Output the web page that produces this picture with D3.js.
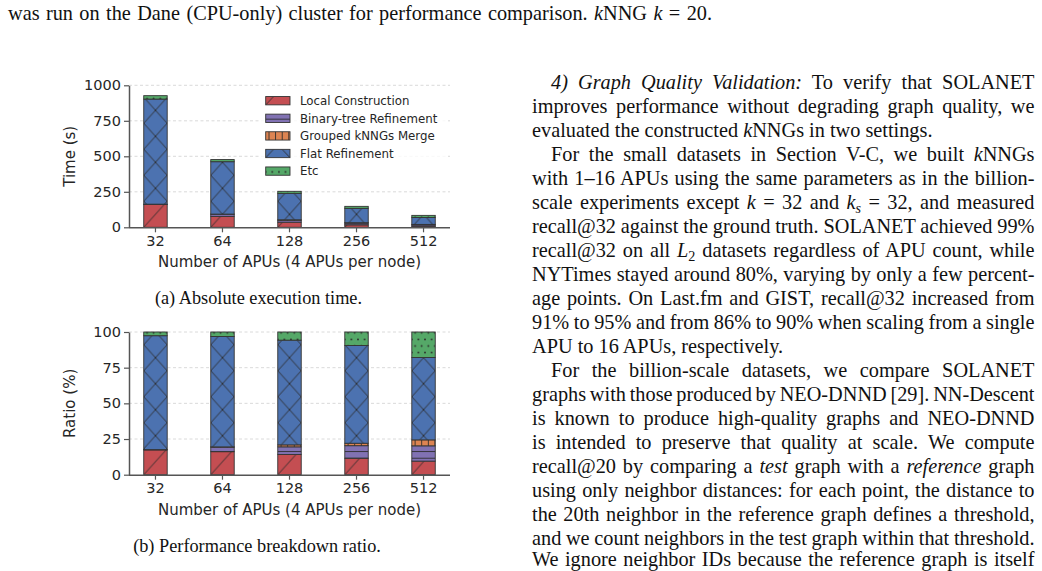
<!DOCTYPE html>
<html><head><meta charset="utf-8">
<script src="https://cdn.jsdelivr.net/npm/d3@7"></script>
<style>body{margin:0;background:#fff} svg{display:block}</style>
</head><body><svg id="c" width="1042" height="571"></svg>
<script>
// ---------- data ----------
const categories = ["32", "64", "128", "256", "512"];
const seriesNames = ["Local Construction", "Binary-tree Refinement", "Grouped kNNGs Merge", "Flat Refinement", "Etc"];
const localConstruction = [161, 77, 36, 17, 8];
const binaryTreeRefinement = [2, 15, 13.5, 13, 9];
const groupedMerge = [0, 1, 3.5, 2.5, 3.5];
const flatRefinement = [740, 369, 186, 101, 48.5];
const etcTime = [24, 15, 14.5, 14, 15];
const timeTicks = [0, 250, 500, 750, 1000];
const ratioTicks = [0, 25, 50, 75, 100];
const seriesColors = ["#C44E52", "#8172B3", "#DD8452", "#4C72B0", "#55A868"];
const seriesHatches = ["/", "-", "|", "x", "."];

const topLine = "was run on the Dane (CPU-only) cluster for performance comparison. {i:k}NNG {i:k} = 20.";
const columnLines = [
  ["ind", true, "{i:4) Graph Quality Validation:} To verify that SOLANET"],
  ["", true, "improves performance without degrading graph quality, we"],
  ["", false, "evaluated the constructed {i:k}NNGs in two settings."],
  ["ind", true, "For the small datasets in Section V-C, we built {i:k}NNGs"],
  ["", true, "with 1\u201316 APUs using the same parameters as in the billion-"],
  ["", true, "scale experiments except {i:k} = 32 and {i:k}{si:s} = 32, and measured"],
  ["", true, "recall@32 against the ground truth. SOLANET achieved 99%"],
  ["", true, "recall@32 on all {i:L}{s:2} datasets regardless of APU count, while"],
  ["", true, "NYTimes stayed around 80%, varying by only a few percent-"],
  ["", true, "age points. On Last.fm and GIST, recall@32 increased from"],
  ["", true, "91% to 95% and from 86% to 90% when scaling from a single"],
  ["", false, "APU to 16 APUs, respectively."],
  ["ind", true, "For the billion-scale datasets, we compare SOLANET"],
  ["", true, "graphs with those produced by NEO-DNND [29]. NN-Descent"],
  ["", true, "is known to produce high-quality graphs and NEO-DNND"],
  ["", true, "is intended to preserve that quality at scale. We compute"],
  ["", true, "recall@20 by comparing a {i:test} graph with a {i:reference} graph"],
  ["", true, "using only neighbor distances: for each point, the distance to"],
  ["", true, "the 20th neighbor in the reference graph defines a threshold,"],
  ["", true, "and we count neighbors in the test graph within that threshold."],
  ["", true, "We ignore neighbor IDs because the reference graph is itself"]
];

// ---------- setup ----------
const svg = d3.select("#c");
svg.append("rect").attr("width", 1042).attr("height", 571).attr("fill", "#fff");
const defs = svg.append("defs");
const SANS = "DejaVu Sans, sans-serif";
const SERIF = "Liberation Serif, Times New Roman, serif";
const INK = "#262626";
const HATCH_INK = "#2b2b2b";

const rows = categories.map((c, i) => ({
  cat: c,
  vals: [localConstruction[i], binaryTreeRefinement[i], groupedMerge[i], flatRefinement[i], etcTime[i]]
}));
rows.forEach(r => { r.total = d3.sum(r.vals); });

let patId = 0;
function makePattern(si, x0, y0, w) {
  const h = seriesHatches[si], col = seriesColors[si];
  const id = "p" + (patId++);
  let W, H;
  if (h === "/" || h === "x") { W = w; H = 26; }
  else if (h === "-") { W = 10; H = 6.6; }
  else if (h === "|") { W = 6.6; H = 10; }
  else { W = 6.6; H = 13.2; }
  const p = defs.append("pattern").attr("id", id).attr("patternUnits", "userSpaceOnUse")
    .attr("x", x0).attr("y", y0).attr("width", W).attr("height", H);
  p.append("rect").attr("width", W).attr("height", H).attr("fill", col);
  const ln = (a, b, c, d) => p.append("line").attr("x1", a).attr("y1", b).attr("x2", c).attr("y2", d)
    .attr("stroke", HATCH_INK).attr("stroke-width", 0.9);
  if (h === "/" || h === "x") {
    ln(0, H, W, 0); ln(-W, H, 0, 0); ln(W, H, 2 * W, 0);
    if (h === "x") { ln(0, 0, W, H); ln(-W, 0, 0, H); ln(W, 0, 2 * W, H); }
  } else if (h === "-") {
    ln(-1, H / 2, W + 1, H / 2);
  } else if (h === "|") {
    ln(W / 2, -1, W / 2, H + 1);
  } else {
    [[W / 2, H / 4], [0, 3 * H / 4], [W, 3 * H / 4]].forEach(([cx, cy]) =>
      p.append("circle").attr("cx", cx).attr("cy", cy).attr("r", 0.95).attr("fill", HATCH_INK));
  }
  return "url(#" + id + ")";
}

function drawChart(cfg) {
  const g = svg.append("g");
  const x = d3.scaleBand().domain(categories).range([129, 450]).paddingInner(0.65).paddingOuter(0.22);
  const y = d3.scaleLinear().domain(cfg.domain).range([cfg.y0, cfg.y1]);

  // grid
  g.append("g").selectAll("line").data(cfg.ticks.filter(t => t > 0)).join("line")
    .attr("x1", 129).attr("x2", 450).attr("y1", d => y(d)).attr("y2", d => y(d))
    .attr("stroke", "#d0d0d0").attr("stroke-width", 0.8).attr("stroke-dasharray", "3,2.5");

  // bars
  const stack = d3.stack().keys([0, 1, 2, 3, 4]).value((d, k) => cfg.value(d, k));
  const layers = stack(rows);
  layers.forEach((layer, si) => {
    layer.forEach((seg, ci) => {
      if (seg[1] - seg[0] <= 0) return;
      const bx = x(categories[ci]);
      g.append("rect")
        .attr("x", bx).attr("width", x.bandwidth())
        .attr("y", y(seg[1])).attr("height", y(seg[0]) - y(seg[1]))
        .attr("fill", makePattern(si, bx, cfg.y0, x.bandwidth()))
        .attr("stroke", "#333").attr("stroke-width", 0.9);
    });
  });

  // axes
  const ya = g.append("g").attr("transform", "translate(129,0)")
    .call(d3.axisLeft(y).tickValues(cfg.ticks).tickFormat(d3.format("d"))
      .tickSize(5).tickSizeOuter(0).tickPadding(3));
  const xa = g.append("g").attr("transform", `translate(0,${cfg.y0})`)
    .call(d3.axisBottom(x).tickSize(5).tickSizeOuter(0).tickPadding(3));
  [ya, xa].forEach(a => {
    a.select(".domain").attr("stroke", "#555").attr("stroke-width", 1.5);
    a.selectAll(".tick line").attr("stroke", "#555").attr("stroke-width", 1.2);
    a.selectAll("text").attr("font-family", SANS).attr("font-size", 14.5).attr("fill", INK);
  });
  xa.select(".domain").attr("d", `M129,0.5H450`);

  g.append("text").attr("transform", `translate(75,${(cfg.y0 + cfg.y1) / 2}) rotate(-90)`)
    .attr("text-anchor", "middle").attr("font-family", SANS).attr("font-size", 15).attr("fill", INK)
    .text(cfg.ylabel);
  g.append("text").attr("x", 289.5).attr("y", cfg.y0 + 40).attr("text-anchor", "middle")
    .attr("font-family", SANS).attr("font-size", 15).attr("fill", INK)
    .text("Number of APUs (4 APUs per node)");
  return g;
}

const gA = drawChart({
  domain: [0, 1000], y0: 227.3, y1: 85.3, ticks: timeTicks, ylabel: "Time (s)",
  value: (d, k) => d.vals[k]
});
drawChart({
  domain: [0, 100], y0: 474.7, y1: 332, ticks: ratioTicks, ylabel: "Ratio (%)",
  value: (d, k) => d.vals[k] / d.total * 100
});

// legend
const leg = gA.append("g");
leg.append("rect").attr("x", 259).attr("y", 91).attr("width", 188).attr("height", 89)
  .attr("fill", "#fff").attr("opacity", 0.8);
seriesNames.forEach((name, i) => {
  const cy = 100.7 + i * 17.6, px = 265.7, py = cy - 4.15;
  leg.append("rect").attr("x", px).attr("y", py).attr("width", 24.3).attr("height", 8.3)
    .attr("fill", makePattern(i, px, py + 8.3, 24.3)).attr("stroke", "#333").attr("stroke-width", 0.9);
  leg.append("text").attr("x", 300).attr("y", cy + 4.2).attr("font-family", SANS)
    .attr("font-size", 11.8).attr("fill", INK).text(name);
});

// captions
svg.append("text").attr("x", 258.5).attr("y", 304).attr("text-anchor", "middle")
  .attr("font-family", SERIF).attr("font-size", 18.3).attr("fill", "#111")
  .text("(a) Absolute execution time.");
svg.append("text").attr("x", 257).attr("y", 552).attr("text-anchor", "middle")
  .attr("font-family", SERIF).attr("font-size", 18.3).attr("fill", "#111")
  .text("(b) Performance breakdown ratio.");

// body text
function richLine(x, y, str, size, target) {
  const t = svg.append("text").attr("x", x).attr("y", y).attr("font-family", SERIF)
    .attr("font-size", size).attr("fill", "#111");
  const re = /\{(i|si|s):([^}]*)\}/g;
  let last = 0, m, shifted = false, plain = "";
  const add = (txt, kind) => {
    if (!txt) return;
    const ts = t.append("tspan").text(txt);
    plain += txt;
    if (kind === "i" || kind === "si") ts.attr("font-style", "italic");
    if (kind === "si" || kind === "s") {
      ts.attr("font-size", size * 0.7).attr("dy", size * 0.22); shifted = true;
    } else if (shifted) { ts.attr("dy", -size * 0.22); shifted = false; }
  };
  while ((m = re.exec(str)) !== null) {
    add(str.slice(last, m.index), "");
    add(m[2], m[1]);
    last = re.lastIndex;
  }
  add(str.slice(last), "");
  if (target) {
    const nat = t.node().getComputedTextLength();
    const spaces = (plain.match(/ /g) || []).length;
    if (spaces > 0) t.attr("word-spacing", (target - nat) / spaces);
  }
  return t;
}

const BODY = 20.3;
richLine(8, 20, topLine, BODY, 704);
columnLines.forEach((ln, i) => {
  const x0 = ln[0] === "ind" ? 551 : 532;
  const yb = Math.min(88.5 + i * 24.05, 566);
  richLine(x0, yb, ln[2], BODY, ln[1] ? 1034.5 - x0 : null);
});
</script></body></html>
